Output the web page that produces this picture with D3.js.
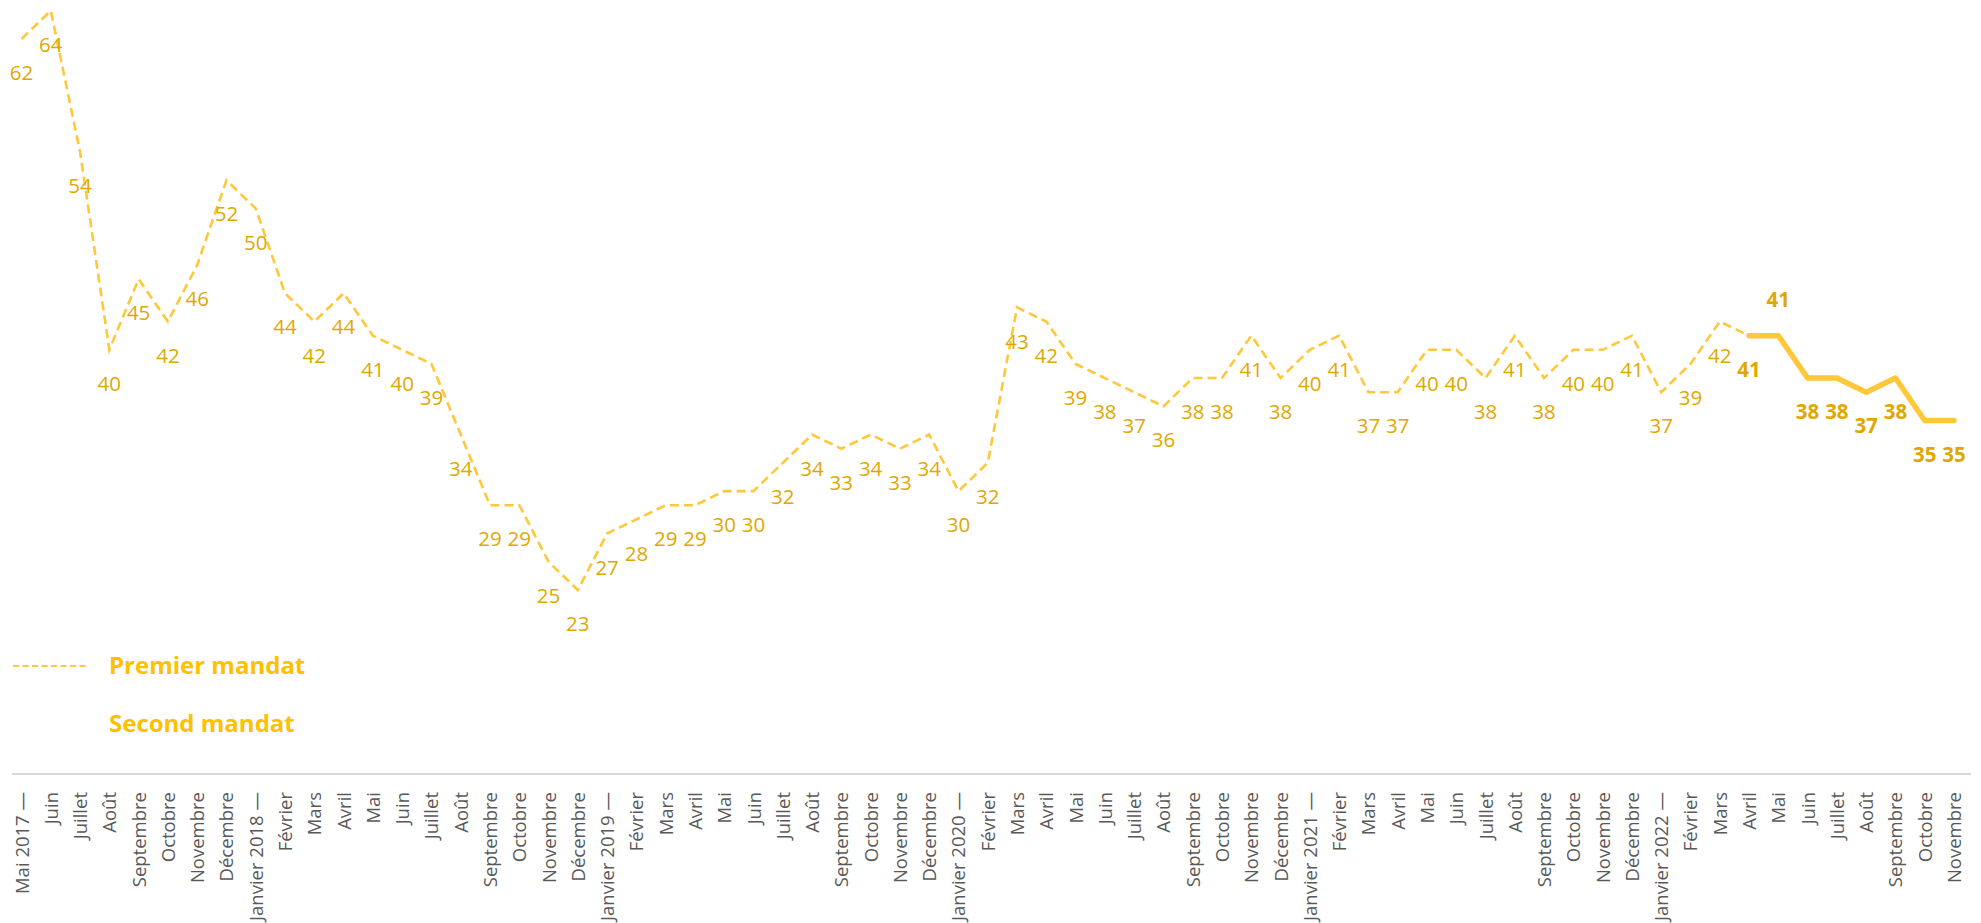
<!DOCTYPE html>
<html>
<head>
<meta charset="utf-8">
<script src="https://cdn.jsdelivr.net/npm/d3@7"></script>
<style>
  html, body { margin: 0; padding: 0; background: #ffffff; }
  svg { display: block; }
</style>
</head>
<body>
<svg id="chart" width="1981" height="923"></svg>
<script>
// ---- Data ----
const months = [
  "Mai 2017 —","Juin","Juillet","Août","Septembre","Octobre","Novembre","Décembre",
  "Janvier 2018 —","Février","Mars","Avril","Mai","Juin","Juillet","Août","Septembre","Octobre","Novembre","Décembre",
  "Janvier 2019 —","Février","Mars","Avril","Mai","Juin","Juillet","Août","Septembre","Octobre","Novembre","Décembre",
  "Janvier 2020 —","Février","Mars","Avril","Mai","Juin","Juillet","Août","Septembre","Octobre","Novembre","Décembre",
  "Janvier 2021 —","Février","Mars","Avril","Mai","Juin","Juillet","Août","Septembre","Octobre","Novembre","Décembre",
  "Janvier 2022 —","Février","Mars","Avril","Mai","Juin","Juillet","Août","Septembre","Octobre","Novembre"
];
// Premier mandat: Mai 2017 -> Avril 2022
const premierMandat = [
  62,64,54,40,45,42,46,52,
  50,44,42,44,41,40,39,34,29,29,25,23,
  27,28,29,29,30,30,32,34,33,34,33,34,
  30,32,43,42,39,38,37,36,38,38,41,38,
  40,41,37,37,40,40,38,41,38,40,40,41,
  37,39,42,41
];
// Second mandat: Avril 2022 -> Novembre 2022
const secondStart = 59;
const secondMandat = [41,41,38,38,37,38,35,35];
// label placement for second mandat (true = above the point)
const secondLabelAbove = [false,true,false,false,false,false,false,false];
const seriesNames = ["Premier mandat","Second mandat"];

// ---- Layout ----
const svg = d3.select("#chart");
const lineColor = "#FFC83A";
const labelColor = "#DFA800";
const legendColor = "#FFC000";

const x = d3.scalePoint().domain(d3.range(months.length)).range([21.5, 1954]);
const y = d3.scaleLinear().domain([23, 64]).range([590, 10.7]);

const axisY = 774;

// axis baseline
svg.append("line")
  .attr("x1", 12).attr("x2", 1971)
  .attr("y1", axisY).attr("y2", axisY)
  .attr("stroke", "#D9D9D9").attr("stroke-width", 2);

// x axis with rotated labels
const xAxis = d3.axisBottom(x).tickSize(0).tickFormat(i => months[i]);
const gx = svg.append("g").attr("transform", `translate(0,${axisY})`).call(xAxis);
gx.select(".domain").remove();
gx.selectAll("text")
  .attr("font-family", "'Open Sans', sans-serif")
  .attr("font-size", 18.5)
  .attr("fill", "#595959")
  .attr("text-anchor", "end")
  .attr("dy", null)
  .attr("y", 0)
  .attr("transform", "translate(6.5,18) rotate(-90)");

// lines
const line = d3.line().x(d => x(d.i)).y(d => y(d.v));
const premierPts = premierMandat.map((v, i) => ({i, v}));
const secondPts = secondMandat.map((v, k) => ({i: secondStart + k, v, above: secondLabelAbove[k]}));

svg.append("path")
  .datum(premierPts)
  .attr("d", line)
  .attr("fill", "none")
  .attr("stroke", lineColor)
  .attr("stroke-width", 2.6)
  .attr("stroke-dasharray", "9,5");

svg.append("path")
  .datum(secondPts)
  .attr("d", line)
  .attr("fill", "none")
  .attr("stroke", lineColor)
  .attr("stroke-width", 5.5)
  .attr("stroke-linecap", "round")
  .attr("stroke-linejoin", "round");

// data labels
svg.append("g").selectAll("text")
  .data(premierPts.filter(d => d.i < secondStart))
  .join("text")
  .attr("x", d => x(d.i))
  .attr("y", d => y(d.v) + 34)
  .attr("dy", "0.35em")
  .attr("text-anchor", "middle")
  .attr("font-family", "'Open Sans', sans-serif")
  .attr("font-size", 20.5)
  .attr("fill", labelColor)
  .text(d => d.v);

svg.append("g").selectAll("text")
  .data(secondPts)
  .join("text")
  .attr("x", d => x(d.i))
  .attr("y", d => y(d.v) + (d.above ? -36 : 34))
  .attr("dy", "0.35em")
  .attr("text-anchor", "middle")
  .attr("font-family", "'Open Sans', sans-serif")
  .attr("font-weight", "bold")
  .attr("font-size", 20.5)
  .attr("fill", labelColor)
  .text(d => d.v);

// legend
const legend = svg.append("g");
legend.append("line")
  .attr("x1", 13).attr("x2", 88)
  .attr("y1", 666).attr("y2", 666)
  .attr("stroke", lineColor)
  .attr("stroke-width", 2)
  .attr("stroke-dasharray", "6,3.5");
legend.selectAll("text.leg")
  .data(seriesNames)
  .join("text")
  .attr("class", "leg")
  .attr("x", 109)
  .attr("y", (d, k) => 666 + k * 58)
  .attr("dy", "0.35em")
  .attr("font-family", "'Open Sans', sans-serif")
  .attr("font-weight", "bold")
  .attr("font-size", 24)
  .attr("fill", legendColor)
  .text(d => d);
</script>
</body>
</html>
